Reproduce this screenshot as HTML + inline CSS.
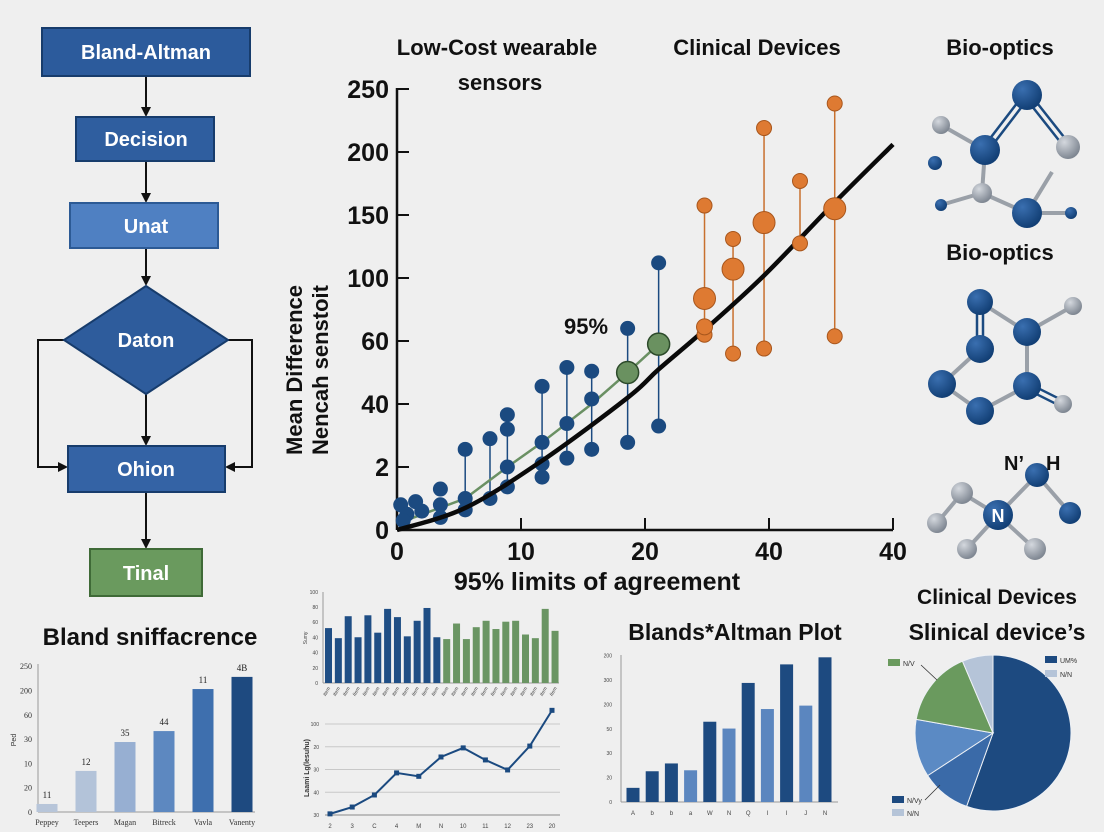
<!DOCTYPE html>
<html><head><meta charset="utf-8">
<style>
html,body{margin:0;padding:0;background:#efefef;}
svg{display:block;font-family:"Liberation Sans",sans-serif;}
.b{font-weight:bold;}
</style></head>
<body>
<svg id="root" width="1104" height="832" viewBox="0 0 1104 832" xmlns="http://www.w3.org/2000/svg">
<defs>
<radialGradient id="gb" cx="35%" cy="30%" r="70%"><stop offset="0" stop-color="#3a6fb0"/><stop offset="1" stop-color="#123f75"/></radialGradient>
<radialGradient id="gg" cx="35%" cy="30%" r="70%"><stop offset="0" stop-color="#d4d8de"/><stop offset="1" stop-color="#7f8792"/></radialGradient>
<marker id="ah" markerWidth="10" markerHeight="10" refX="8" refY="5" orient="auto" markerUnits="userSpaceOnUse"><path d="M0,0 L10,5 L0,10 z" fill="#111"/></marker>
</defs>
<rect x="0" y="0" width="1104" height="832" fill="#efefef"/>

<g stroke="#111" stroke-width="2" fill="none">
  <line x1="146" y1="76" x2="146" y2="115" marker-end="url(#ah)"/>
  <line x1="146" y1="161" x2="146" y2="201" marker-end="url(#ah)"/>
  <line x1="146" y1="248" x2="146" y2="284" marker-end="url(#ah)"/>
  <line x1="146" y1="394" x2="146" y2="444" marker-end="url(#ah)"/>
  <line x1="146" y1="492" x2="146" y2="547" marker-end="url(#ah)"/>
  <polyline points="64,340 38,340 38,467 66,467" marker-end="url(#ah)"/>
  <polyline points="228,340 252,340 252,467 227,467" marker-end="url(#ah)"/>
</g>
<g font-weight="bold" font-size="20" fill="#fff" text-anchor="middle">
  <g><rect x="42" y="28" width="208" height="48" fill="#2c5b9c" stroke="#173c6c" stroke-width="2"/><text x="146" y="59">Bland-Altman</text></g>
  <g><rect x="76" y="117" width="138" height="44" fill="#2f5e9f" stroke="#173c6c" stroke-width="2"/><text x="146" y="146">Decision</text></g>
  <g><rect x="70" y="203" width="148" height="45" fill="#4f80c2" stroke="#2c5a95" stroke-width="2"/><text x="146" y="233">Unat</text></g>
  <g><polygon points="146,286 228,340 146,394 64,340" fill="#2e5c9c" stroke="#173c6c" stroke-width="2"/><text x="146" y="347">Daton</text></g>
  <g><rect x="68" y="446" width="157" height="46" fill="#3463a5" stroke="#173c6c" stroke-width="2"/><text x="146" y="476">Ohion</text></g>
  <g><rect x="90" y="549" width="112" height="47" fill="#6a9a5e" stroke="#3f6a37" stroke-width="2"/><text x="146" y="580" fill="#fff">Tinal</text></g>
</g>

<g class="b" font-size="22" fill="#111" text-anchor="middle">
  <text x="497" y="55">Low-Cost wearable</text>
  <text x="500" y="90">sensors</text>
  <text x="757" y="55">Clinical Devices</text>
  <text x="1000" y="55">Bio-optics</text>
  <text x="1000" y="260">Bio-optics</text>
  <text x="597" y="590" font-size="25">95% limits of agreement</text>
  <text x="586" y="334">95%</text>
  <text transform="translate(302,370) rotate(-90)" font-size="22">Mean Difference</text>
  <text transform="translate(328,370) rotate(-90)" font-size="22">Nencah senstoit</text>
</g>
<g id="main"></g>

<g id="mol"></g>
<g class="b" font-size="20" fill="#111">
  <text x="1004" y="470">N’</text>
  <text x="1046" y="470">H</text>
</g>

<text x="150" y="645" class="b" font-size="24" text-anchor="middle" fill="#111">Bland sniffacrence</text>
<g id="bl"></g>
<g id="sb"></g>
<g id="lc"></g>

<text x="735" y="640" class="b" font-size="23" text-anchor="middle" fill="#111">Blands*Altman Plot</text>
<g id="ba"></g>

<text x="997" y="604" class="b" font-size="21" text-anchor="middle" fill="#111">Clinical Devices</text>
<text x="997" y="640" class="b" font-size="23" text-anchor="middle" fill="#111">Slinical device’s</text>
<g id="pie"></g>
</svg>

<script>
// ===== Main chart data =====
const mainXTickVals = [0,10,20,30,40];
const mainXTickLabels = ["0","10","20","40","40"];
const mainYTickVals = [0,20,40,60,100,150,200,250];
const mainYTickLabels = ["0","2","40","60","100","150","200","250"];
const blueBarX = [5.5,7.5,8.9,11.7,13.7,15.7,18.6,21.1];
const blueBarTop = [25.6,29,36.6,45.6,51.6,50.4,68,112];
const blueBarBottom = [6.4,10,13.7,16.8,22.8,25.6,27.8,33];
const blueDotX = [0.3,0.8,1.5,2,0.5,3.5,3.5,3.5,5.5,8.9,8.9,11.7,11.7,13.7,15.7];
const blueDotY = [8,5,9,6,3,13,8,4,10,32,20,27.8,21,33.8,41.6];
const greenLineX = [0,5.5,8.9,11.7,15.7,18.6,21.1];
const greenLineY = [2,10,20,27.8,40,50,59];
const greenBigX = [18.6,21.1];
const greenBigY = [50,59];
const orangeX = [24.8,27.1,29.6,32.5,35.3];
const orangeTop = [157.5,131,219,177,238.5];
const orangeBottom = [64,56,57.6,127.5,63];
const orangeMidX = [24.8,24.8,27.1,29.6,35.3];
const orangeMidY = [87,69,107,144,155];
const curveX = [0,5.5,11.7,18.6,21.1,24.8,29.6,35.3,40];
const curveY = [0,7,22,42,51,67,102,160,206];

// ===== Bland bar chart =====
const blandCats = ["Peppey","Teepers","Magan","Bitreck","Vavla","Vanenty"];
const blandVals = [0.33,1.69,2.88,3.33,5.06,5.56];
const blandLabels = ["11","12","35","44","11","4B"];
const blandTicks = ["0","20","10","30","60","200","250"];

// ===== Small bar chart =====
const sbBlue = [60,49,73,50,74,55,81,72,51,68,82,50];
const sbGreen = [48,65,48,61,68,59,67,68,53,49,81,57];
const sbTicks = ["0","20","40","40","60","80","100"];

// ===== Line chart =====
const lcCats = ["2","3","C","4","M","N","10","11","12","23","20"];
const lcVals = [0.05,0.35,0.88,1.85,1.7,2.55,2.95,2.42,1.98,3.03,4.6];
const lcTicks = ["30","40","30","20","100"];

// ===== Blands*Altman bars =====
const baCats = ["A","b","b","a","W","N","Q","I","I","J","N"];
const baVals = [0.58,1.26,1.58,1.3,3.29,3.01,4.88,3.81,5.64,3.95,5.93];
const baSeries = [0,0,0,1,0,1,0,1,0,1,0];
const baTicks = ["0","20","30","50","200","300","200"];

// ===== Pie =====
const pieVals = [55.5,10.3,12.0,15.8,6.4];
const pieNames = ["UM%","N/Vy","N/N","N/V","N/N-2"];

const NS="http://www.w3.org/2000/svg";
function mk(parent, tag, attrs, txt){
  const e=document.createElementNS(NS,tag);
  for(const k in attrs) e.setAttribute(k,attrs[k]);
  if(txt!==undefined) e.textContent=txt;
  parent.appendChild(e); return e;
}
function piece(vals, pix){
  return v=>{
    if(v<=vals[0]) return pix[0]+(v-vals[0])*(pix[1]-pix[0])/(vals[1]-vals[0]);
    for(let i=1;i<vals.length;i++){
      if(v<=vals[i]) return pix[i-1]+(v-vals[i-1])*(pix[i]-pix[i-1])/(vals[i]-vals[i-1]);
    }
    const n=vals.length-1; return pix[n]+(v-vals[n])*(pix[n]-pix[n-1])/(vals[n]-vals[n-1]);
  };
}
function smoothPath(pts){
  let d="M"+pts[0][0]+","+pts[0][1];
  for(let i=0;i<pts.length-1;i++){
    const p0=pts[i-1]||pts[i],p1=pts[i],p2=pts[i+1],p3=pts[i+2]||p2;
    const c1=[p1[0]+(p2[0]-p0[0])/6,p1[1]+(p2[1]-p0[1])/6];
    const c2=[p2[0]-(p3[0]-p1[0])/6,p2[1]-(p3[1]-p1[1])/6];
    d+=" C"+c1+" "+c2+" "+p2;
  }
  return d;
}

// ---- main chart ----
(function(){
  const g=document.getElementById('main');
  const X0=397,X1=893,Y0=530;
  const xs=v=>X0+v*(X1-X0)/40;
  const ys=piece(mainYTickVals, mainYTickVals.map((_,i)=>Y0-i*63));
  let e;
  e=mk(g,'line',{x1:X0,y1:Y0,x2:X1,y2:Y0,stroke:'#111','stroke-width':2.5});
  
  
  e=mk(g,'line',{x1:X0,y1:Y0,x2:X0,y2:88,stroke:'#111','stroke-width':2.5});
  
  
  mainYTickVals.forEach((v,i)=>{
    const y=ys(v);
    let t=mk(g,'line',{x1:X0,y1:y,x2:X0+12,y2:y,stroke:'#111','stroke-width':2});
    
    
    let l=mk(g,'text',{x:X0-8,y:y+9,'text-anchor':'end','font-size':25,'font-weight':'bold',fill:'#111'},mainYTickLabels[i]);
    
    
  });
  mainXTickVals.forEach((v,i)=>{
    const x=xs(v);
    let t=mk(g,'line',{x1:x,y1:Y0,x2:x,y2:Y0-12,stroke:'#111','stroke-width':2});
    
    
    let l=mk(g,'text',{x:x,y:Y0+30,'text-anchor':'middle','font-size':25,'font-weight':'bold',fill:'#111'},mainXTickLabels[i]);
    
    
  });
  blueBarX.forEach((x,i)=>{
    let l=mk(g,'line',{x1:xs(x),y1:ys(blueBarTop[i]),x2:xs(x),y2:ys(blueBarBottom[i]),stroke:'#1b4a80','stroke-width':1.5});
    
    
  });
  orangeX.forEach((x,i)=>{
    let l=mk(g,'line',{x1:xs(x),y1:ys(orangeTop[i]),x2:xs(x),y2:ys(orangeBottom[i]),stroke:'#c8702e','stroke-width':1.5});
    
    
  });
  let gp=mk(g,'polyline',{points:greenLineX.map((x,i)=>xs(x)+','+ys(greenLineY[i])).join(' '),fill:'none',stroke:'#6a9063','stroke-width':2.5});
  
  
  blueBarX.forEach((x,i)=>{
    [blueBarTop[i],blueBarBottom[i]].forEach(v=>{
      let c=mk(g,'circle',{cx:xs(x),cy:ys(v),r:7.5,fill:'#1b4a80'});
      
      
    });
  });
  blueDotX.forEach((x,i)=>{
    let c=mk(g,'circle',{cx:xs(x),cy:ys(blueDotY[i]),r:7.5,fill:'#1b4a80'});
    
    
  });
  let cp=mk(g,'path',{d:smoothPath(curveX.map((x,i)=>[xs(x),ys(curveY[i])])),fill:'none',stroke:'#0a0a0a','stroke-width':4.5});
  
  
  greenBigX.forEach((x,i)=>{
    let c=mk(g,'circle',{cx:xs(x),cy:ys(greenBigY[i]),r:11,fill:'#6a9160',stroke:'#2c4a2a','stroke-width':1.5});
    
    
  });
  orangeX.forEach((x,i)=>{
    [orangeTop[i],orangeBottom[i]].forEach(v=>{
      let c=mk(g,'circle',{cx:xs(x),cy:ys(v),r:7.5,fill:'#de7a32',stroke:'#a8561c','stroke-width':1});
      
      
    });
  });
  orangeMidX.forEach((x,i)=>{
    let c=mk(g,'circle',{cx:xs(x),cy:ys(orangeMidY[i]),r:i===1?8:11,fill:'#de7a32',stroke:'#a8561c','stroke-width':1});
    
    
  });
})();

// ---- molecules ----
(function(){
  const g=document.getElementById('mol');
  const bonds=[
    [985,150,1027,95,2],[1027,95,1068,147,2],[941,125,985,150,1],[985,150,982,193,1],[941,205,982,193,1],[982,193,1027,213,1],[1027,213,1071,213,1],[1027,213,1052,172,1],
    [980,302,980,349,2],[980,302,1027,332,1],[1027,332,1073,306,1],[1027,332,1027,386,1],[1027,386,1063,404,2],[1027,386,980,411,1],[980,411,942,384,1],[942,384,980,349,1],
    [962,493,998,515,1],[937,523,962,493,1],[998,515,1037,475,1],[1037,475,1070,513,1],[998,515,967,549,1],[998,515,1035,549,1]
  ];
  bonds.forEach(b=>{
    if(b[4]===2){
      const dx=b[3]-b[1],dy=-(b[2]-b[0]),L=Math.hypot(dx,dy),ox=dx/L*3,oy=dy/L*3;
      let l1=mk(g,'line',{x1:b[0]+ox,y1:b[1]+oy,x2:b[2]+ox,y2:b[3]+oy,stroke:'#1b4a80','stroke-width':2.5});
      
      
      let l2=mk(g,'line',{x1:b[0]-ox,y1:b[1]-oy,x2:b[2]-ox,y2:b[3]-oy,stroke:'#1b4a80','stroke-width':2.5});
      
      
    } else {
      let l=mk(g,'line',{x1:b[0],y1:b[1],x2:b[2],y2:b[3],stroke:'#9aa0a8','stroke-width':4});
      
      
    }
  });
  const atoms=[
    [1027,95,15,'b'],[941,125,9,'g'],[985,150,15,'b'],[1068,147,12,'g'],[935,163,7,'b'],[982,193,10,'g'],[941,205,6,'b'],[1027,213,15,'b'],[1071,213,6,'b'],
    [980,302,13,'b'],[1073,306,9,'g'],[1027,332,14,'b'],[980,349,14,'b'],[942,384,14,'b'],[1027,386,14,'b'],[1063,404,9,'g'],[980,411,14,'b'],
    [962,493,11,'g'],[937,523,10,'g'],[1037,475,12,'b'],[1070,513,11,'b'],[967,549,10,'g'],[1035,549,11,'g'],[998,515,15,'b']
  ];
  atoms.forEach(a=>{
    let c=mk(g,'circle',{cx:a[0],cy:a[1],r:a[2],fill:a[3]==='b'?'url(#gb)':'url(#gg)'});
    
    
  });
  let t=mk(g,'text',{x:998,y:522,'text-anchor':'middle','font-size':18,'font-weight':'bold',fill:'#fff'},'N');
  
  
})();

// ---- Bland bar chart ----
(function(){
  const g=document.getElementById('bl');
  const X0=38,X1=255,Y0=812,step=24.3;
  const ys=v=>Y0-v*step;
  const colors=['#b7c5d9','#b3c3d9','#97afd2','#5d88c0','#3e6fae','#1e4a80'];
  let ax=mk(g,'line',{x1:X0,y1:Y0,x2:X1,y2:Y0,stroke:'#999','stroke-width':1});
  
  
  let ay=mk(g,'line',{x1:X0,y1:Y0,x2:X0,y2:664,stroke:'#999','stroke-width':1});
  
  
  blandTicks.forEach((t,i)=>{
    let l=mk(g,'text',{x:X0-6,y:ys(i)+3,'text-anchor':'end','font-size':8,fill:'#333','font-family':'Liberation Serif'},t);
    
    
  });
  blandCats.forEach((c,i)=>{
    const cx=47+i*39;
    let r=mk(g,'rect',{x:cx-10.5,y:ys(blandVals[i]),width:21,height:Y0-ys(blandVals[i]),fill:colors[i]});
    
    
    let v=mk(g,'text',{x:cx,y:ys(blandVals[i])-6,'text-anchor':'middle','font-size':9,fill:'#222','font-family':'Liberation Serif'},blandLabels[i]);
    
    
    let l=mk(g,'text',{x:cx,y:825,'text-anchor':'middle','font-size':8,fill:'#333','font-family':'Liberation Serif'},c);
    
    
  });
  let yt=mk(g,'text',{transform:'translate(16,740) rotate(-90)','text-anchor':'middle','font-size':7,fill:'#333'},'Ped');
  
  
})();

// ---- small bar chart ----
(function(){
  const g=document.getElementById('sb');
  const X0=323,Y0=683,unit=0.915;
  const ys=v=>Y0-v*unit;
  let ax=mk(g,'line',{x1:X0,y1:Y0,x2:559,y2:Y0,stroke:'#999','stroke-width':1});
  
  
  let ay=mk(g,'line',{x1:X0,y1:Y0,x2:X0,y2:592,stroke:'#999','stroke-width':1});
  
  
  sbTicks.forEach((t,i)=>{
    let l=mk(g,'text',{x:X0-5,y:Y0-i*15.2+2,'text-anchor':'end','font-size':5,fill:'#444'},t);
    
    
  });
  const all=sbBlue.concat(sbGreen);
  all.forEach((v,i)=>{
    const cx=328.5+i*9.85;
    let r=mk(g,'rect',{x:cx-3.5,y:ys(v),width:7,height:Y0-ys(v),fill:i<sbBlue.length?'#1f4e85':'#6a9563'});
    
    
    let l=mk(g,'text',{transform:'translate('+(cx+2)+',688) rotate(-60)','text-anchor':'end','font-size':5,fill:'#444','font-style':'italic'},'Item');
    
    
  });
  let yt=mk(g,'text',{transform:'translate(307,638) rotate(-90)','text-anchor':'middle','font-size':5,fill:'#444'},'Sumy');
  
  
})();

// ---- line chart ----
(function(){
  const g=document.getElementById('lc');
  const X0=325,X1=560,Y0=815,step=22.75;
  const ys=v=>Y0-v*step;
  const xs=i=>330+i*22.2;
  lcTicks.forEach((t,i)=>{
    let gl=mk(g,'line',{x1:X0,y1:ys(i),x2:X1,y2:ys(i),stroke:i===0?'#888':'#c8c8c8','stroke-width':1});
    
    
    let l=mk(g,'text',{x:X0-6,y:ys(i)+2,'text-anchor':'end','font-size':5,fill:'#444'},t);
    
    
  });
  let p=mk(g,'polyline',{points:lcVals.map((v,i)=>xs(i)+','+ys(v)).join(' '),fill:'none',stroke:'#1b4a80','stroke-width':2});
  
  
  lcVals.forEach((v,i)=>{
    let r=mk(g,'rect',{x:xs(i)-2.5,y:ys(v)-2.5,width:5,height:5,fill:'#1b4a80'});
    
    
    let l=mk(g,'text',{x:xs(i),y:828,'text-anchor':'middle','font-size':6,fill:'#444'},lcCats[i]);
    
    
  });
  let yt=mk(g,'text',{transform:'translate(309,768) rotate(-90)','text-anchor':'middle','font-size':7,'font-weight':'bold',fill:'#333'},'Laami Lg(lesuhu)');
  
  
})();

// ---- Blands*Altman bars ----
(function(){
  const g=document.getElementById('ba');
  const X0=621,Y0=802,step=24.4;
  const ys=v=>Y0-v*step;
  let ax=mk(g,'line',{x1:X0,y1:Y0,x2:838,y2:Y0,stroke:'#999','stroke-width':1});
  
  
  let ay=mk(g,'line',{x1:X0,y1:Y0,x2:X0,y2:655,stroke:'#999','stroke-width':1});
  
  
  baTicks.forEach((t,i)=>{
    let l=mk(g,'text',{x:X0-9,y:ys(i)+2,'text-anchor':'end','font-size':5,fill:'#444'},t);
    
    
  });
  baCats.forEach((c,i)=>{
    const cx=633+i*19.2;
    let r=mk(g,'rect',{x:cx-6.5,y:ys(baVals[i]),width:13,height:Y0-ys(baVals[i]),fill:baSeries[i]?'#5b86bf':'#1d4a80'});
    
    
    let l=mk(g,'text',{x:cx,y:815,'text-anchor':'middle','font-size':6,fill:'#444'},c);
    
    
  });
})();

// ---- pie ----
(function(){
  const g=document.getElementById('pie');
  const cx=993,cy=733,R=78;
  const colors=['#1d4a80','#3a6aa8','#5b8ac4','#6a9a5e','#b5c4d8'];
  const tot=pieVals.reduce((a,b)=>a+b,0);
  let a0=0;
  pieVals.forEach((v,i)=>{
    const a1=a0+v/tot*Math.PI*2;
    const p=(a)=>[cx+R*Math.sin(a),cy-R*Math.cos(a)];
    const s=p(a0),e=p(a1);
    let path=mk(g,'path',{d:'M'+cx+','+cy+' L'+s+' A'+R+','+R+' 0 '+((a1-a0)>Math.PI?1:0)+' 1 '+e+' Z',fill:colors[i],stroke:'#eef1f5','stroke-width':1});
    
    
    a0=a1;
  });
  const leg=[[898,663,'#6a9a5e','N/V'],[1055,660,'#1d4a80','UM%'],[1055,674,'#b5c4d8','N/N'],[902,800,'#1d4a80','N/Vy'],[902,813,'#b5c4d8','N/N']];
  leg.forEach(L=>{
    let r=mk(g,'rect',{x:L[0]-10,y:L[1]-4,width:12,height:7,fill:L[2]});
    
    
    let t=mk(g,'text',{x:L[0]+5,y:L[1]+3,'font-size':7,fill:'#333'},L[3]);
    
    
  });
  let l1=mk(g,'line',{x1:921,y1:665,x2:937,y2:680,stroke:'#333','stroke-width':0.8});
  
  
  let l2=mk(g,'line',{x1:925,y1:800,x2:940,y2:785,stroke:'#333','stroke-width':0.8});
  
  
})();
</script>
</body></html>
